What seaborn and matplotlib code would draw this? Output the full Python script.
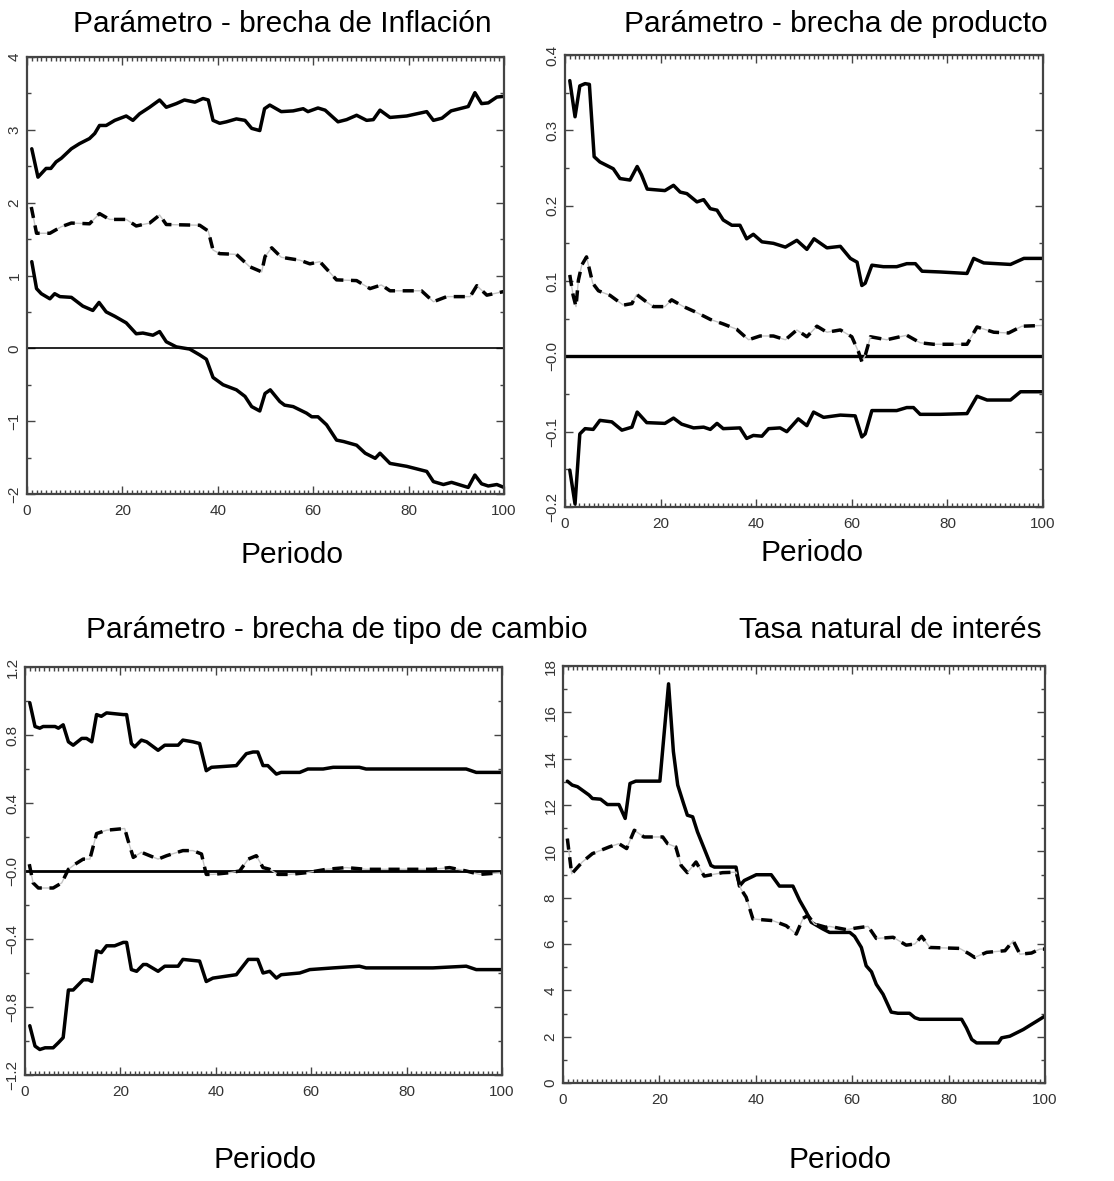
import numpy as np
import pandas as pd
import matplotlib
matplotlib.use("Agg")
import matplotlib.pyplot as plt
import seaborn as sns
from matplotlib.ticker import MultipleLocator
from matplotlib import font_manager

# ---------------- data (x = periodo, y = value) ----------------
p1_upper = [(1,2.74),(2.3,2.35),(4,2.47),(5,2.47),(6.1,2.56),(7.2,2.61),(9.3,2.74),(11,2.81),(13.1,2.88),(14.2,2.95),
            (15.2,3.06),(16.6,3.06),(18.4,3.13),(20.8,3.19),(22.2,3.13),(23.6,3.22),(25.7,3.31),(27.8,3.41),(29.2,3.31),
            (31.3,3.36),(33,3.41),(35.2,3.38),(36.9,3.43),(38,3.41),(39,3.13),(40.4,3.09),(41.8,3.11),(43.9,3.15),
            (45.7,3.13),(47.1,3.02),(48.8,2.99),(49.8,3.29),(50.9,3.34),(53.3,3.25),(55.8,3.26),(57.9,3.29),(58.9,3.25),
            (61,3.30),(62.5,3.27),(65.2,3.11),(67,3.14),(69.1,3.20),(71.2,3.13),(72.6,3.14),(74,3.27),(76.1,3.17),
            (79.6,3.19),(83.8,3.25),(85.2,3.13),(87,3.16),(88.9,3.26),(92.5,3.32),(93.9,3.51),(95.3,3.36),(96.7,3.37),
            (98.5,3.45),(100,3.46)]
p1_mid = [(0.9,1.94),(2,1.58),(4.8,1.58),(7.2,1.67),(9.3,1.72),(13.1,1.71),(15.2,1.85),(17.3,1.77),(20.8,1.77),
          (22.9,1.68),(25.7,1.72),(27.8,1.83),(29.2,1.70),(36.2,1.69),(38,1.61),(39,1.35),(40.4,1.30),(43.9,1.29),
          (46.7,1.12),(49.2,1.05),(49.9,1.26),(51.3,1.38),(53.3,1.25),(57.2,1.21),(59.3,1.16),(61.4,1.19),(64.9,0.94),
          (69.1,0.93),(71.9,0.82),(74.3,0.87),(76.1,0.79),(82.7,0.79),(85.2,0.64),(88,0.71),(92.9,0.71),(94.3,0.86),
          (96.4,0.73),(100,0.78)]
p1_lower = [(1,1.19),(2,0.82),(3,0.75),(4.8,0.68),(5.8,0.75),(6.9,0.71),(9.3,0.70),(11.7,0.58),(13.8,0.52),(15.1,0.63),
            (16.6,0.50),(18.4,0.44),(20.8,0.35),(22.9,0.20),(24.3,0.21),(26.4,0.18),(27.8,0.23),(29.2,0.09),(31.3,0.02),
            (34.1,-0.01),(36.2,-0.09),(37.6,-0.15),(39,-0.40),(41.1,-0.50),(43.9,-0.57),(45.7,-0.66),(47.1,-0.80),
            (48.8,-0.86),(49.9,-0.62),(51,-0.57),(53,-0.73),(54,-0.78),(55.8,-0.80),(58.6,-0.89),(59.7,-0.94),(61,-0.94),
            (62.8,-1.05),(64.9,-1.26),(66.4,-1.28),(69.1,-1.33),(70.9,-1.44),(73,-1.51),(74,-1.44),(76.1,-1.58),
            (79.6,-1.62),(83.8,-1.69),(85.2,-1.83),(87.3,-1.87),(89,-1.84),(92.5,-1.91),(93.9,-1.74),(95.3,-1.86),
            (96.7,-1.89),(98.5,-1.87),(100,-1.91)]

p2_upper = [(1,0.366),(2.1,0.318),(3.1,0.359),(4.2,0.362),(5.1,0.361),(6.1,0.265),(7.3,0.258),(10.1,0.249),(11.5,0.236),
            (13.6,0.234),(15.1,0.252),(16,0.241),(17.2,0.222),(20.9,0.220),(22.7,0.227),(24.1,0.218),(25.5,0.216),
            (27.6,0.205),(29,0.208),(30.4,0.196),(31.8,0.194),(33.1,0.181),(34.9,0.174),(36.6,0.174),(38,0.156),
            (39.4,0.162),(41.2,0.152),(43.6,0.150),(46.1,0.145),(48.5,0.154),(50.6,0.142),(52.1,0.156),(54.8,0.144),
            (57.6,0.146),(59.7,0.130),(61.1,0.125),(62.1,0.094),(62.8,0.097),(64.2,0.121),(66.6,0.119),(69.4,0.119),
            (71.5,0.123),(73.3,0.123),(74.7,0.113),(78.5,0.112),(84.1,0.110),(85.5,0.130),(87.6,0.124),(93.2,0.122),
            (96,0.130),(100,0.130)]
p2_mid = [(1,0.108),(1.7,0.081),(2.3,0.066),(2.8,0.101),(3.5,0.121),(4.5,0.132),(5.8,0.097),(7,0.087),(9.4,0.081),
          (12.2,0.068),(14,0.070),(15,0.082),(17.1,0.072),(18.5,0.066),(20.9,0.066),(22.3,0.075),(24.8,0.066),
          (27.6,0.058),(30.4,0.049),(33.1,0.043),(35.9,0.036),(38.4,0.022),(40.8,0.027),(43.6,0.027),(46.1,0.022),
          (48.5,0.035),(50.6,0.026),(52.7,0.040),(54.8,0.032),(57.6,0.035),(60,0.026),(61.4,0.006),(62.1,-0.007),
          (62.8,0.001),(63.9,0.026),(67.3,0.022),(71.5,0.028),(74.3,0.018),(77.1,0.016),(84.1,0.016),(86.2,0.039),
          (89.7,0.032),(92.8,0.031),(95.6,0.040),(100,0.041)]
p2_lower = [(1,-0.151),(2.1,-0.196),(3.1,-0.103),(4.2,-0.096),(5.9,-0.097),(7.3,-0.085),(9.8,-0.087),(11.9,-0.098),
            (14,-0.094),(15.1,-0.074),(17.1,-0.088),(20.9,-0.089),(22.7,-0.082),(24.4,-0.090),(26.9,-0.095),(29,-0.094),
            (30.4,-0.097),(31.8,-0.089),(33.1,-0.096),(36.6,-0.095),(38,-0.109),(39.4,-0.105),(41.2,-0.106),(42.6,-0.096),
            (45,-0.095),(46.4,-0.100),(48.8,-0.083),(50.6,-0.092),(52,-0.074),(54.1,-0.081),(57.6,-0.078),(60.7,-0.079),
            (62.1,-0.107),(62.8,-0.103),(64.2,-0.072),(69.4,-0.072),(71.5,-0.068),(72.9,-0.068),(74.3,-0.077),
            (78.5,-0.077),(84.1,-0.076),(86.2,-0.053),(88.3,-0.058),(93.2,-0.058),(95.3,-0.047),(100,-0.047)]

p3_upper = [(1,0.99),(2.1,0.85),(3.1,0.84),(3.8,0.85),(6.3,0.85),(7,0.84),(8,0.86),(9.1,0.76),(10.1,0.74),(11.9,0.78),
            (12.9,0.78),(14,0.76),(15,0.92),(16,0.91),(17.1,0.93),(20.6,0.92),(21.3,0.92),(22.3,0.75),(23,0.73),
            (24.4,0.77),(25.5,0.76),(27.9,0.71),(29.3,0.74),(32.1,0.74),(33.1,0.77),(35.2,0.76),(36.6,0.75),(38,0.59),
            (39.1,0.61),(44.3,0.62),(46.4,0.69),(47.8,0.70),(48.8,0.70),(49.9,0.62),(50.9,0.62),(52.7,0.57),(53.7,0.58),
            (57.6,0.58),(59.3,0.60),(62.5,0.60),(64.6,0.61),(70.1,0.61),(71.5,0.60),(85.5,0.60),(92.5,0.60),(94.6,0.58),
            (100,0.58)]
p3_mid = [(0.9,0.04),(1.7,-0.07),(2.8,-0.10),(5.9,-0.10),(7.7,-0.07),(9.1,0.01),(10.5,0.04),(12.2,0.07),(13.6,0.07),
          (15,0.22),(17.1,0.24),(20.9,0.25),(21.6,0.18),(22.7,0.08),(24.4,0.11),(27.9,0.07),(29.7,0.09),(33.1,0.12),
          (35.2,0.12),(37,0.10),(38,-0.02),(39.4,-0.02),(42.9,-0.01),(45,0.00),(46.8,0.07),(48.5,0.09),(49.9,0.02),
          (51.3,0.01),(53,-0.02),(55.5,-0.02),(59,-0.01),(63.2,0.01),(67.3,0.02),(71.5,0.01),(78.5,0.01),(85.5,0.01),
          (89,0.02),(92.5,0.00),(95.3,-0.02),(100,-0.01)]
p3_lower = [(1,-0.91),(2.1,-1.03),(3.1,-1.05),(4.2,-1.04),(5.9,-1.04),(7,-1.01),(8,-0.98),(9.1,-0.70),(10.1,-0.70),
            (12.2,-0.64),(13.3,-0.64),(14,-0.65),(15,-0.47),(16,-0.48),(17.1,-0.44),(18.8,-0.44),(20.6,-0.42),
            (21.3,-0.42),(22.3,-0.58),(23.4,-0.59),(24.8,-0.55),(25.5,-0.55),(27.9,-0.59),(29.3,-0.56),(32.1,-0.56),
            (33.1,-0.52),(36.6,-0.53),(38,-0.65),(39.4,-0.63),(44.3,-0.61),(46.8,-0.52),(48.8,-0.52),(49.9,-0.60),
            (51.3,-0.59),(52.7,-0.63),(53.7,-0.61),(57.6,-0.60),(59.7,-0.58),(64.6,-0.57),(70.1,-0.56),(71.5,-0.57),
            (85.5,-0.57),(92.5,-0.56),(94.6,-0.58),(100,-0.58)]

p4_solid = [(0.9,13.03),(1.9,12.86),(3,12.79),(5.4,12.43),(6.1,12.28),(7.8,12.25),(9.2,12.02),(11.6,12.02),(12.9,11.42),
            (13.9,12.93),(15.1,13.03),(20.1,13.03),(21.9,17.23),(22.9,14.31),(23.8,12.86),(25,12.07),(25.8,11.56),
            (26.9,11.49),(27.9,10.84),(30.7,9.39),(31.4,9.32),(35.9,9.32),(36.6,8.50),(37.6,8.74),(40.1,8.99),
            (43.2,8.99),(44.9,8.50),(47.7,8.50),(49.1,7.88),(50.5,7.37),(51.5,6.94),(53.9,6.65),(55.3,6.50),(59.5,6.50),
            (60.5,6.33),(61.9,5.85),(62.9,5.06),(64,4.80),(65,4.26),(66.4,3.83),(68.1,3.06),(69.5,3.01),(71.9,3.01),
            (73,2.82),(74,2.75),(82.7,2.75),(83.7,2.38),(84.8,1.88),(85.8,1.73),(90.3,1.73),(91,1.95),(92.7,2.02),
            (95.5,2.31),(97.2,2.53),(98.3,2.67),(100,2.89)]
p4_mid = [(0.9,10.55),(1.8,9.03),(4,9.54),(6.1,9.90),(9.6,10.19),(11.6,10.33),(13.2,10.12),(14.8,10.91),(16.8,10.62),
          (20.7,10.62),(21.7,10.33),(23.4,10.19),(24.5,9.39),(25.8,9.08),(27.6,9.54),(29.3,8.93),(33.1,9.08),
          (35.9,9.10),(36.9,8.38),(38,8.02),(39.4,7.08),(43.5,7.01),(46.3,6.79),(48.4,6.43),(49.8,7.11),(50.8,7.23),
          (52.2,6.86),(54.6,6.72),(55.3,6.76),(58.8,6.62),(60.5,6.68),(63.3,6.76),(65,6.24),(68.5,6.29),(71.2,5.95),
          (73,6.00),(74.4,6.33),(76.1,5.85),(82.3,5.81),(84.4,5.56),(85.4,5.42),(87.9,5.64),(91.7,5.71),(93.4,6.14),
          (94.8,5.56),(97.2,5.61),(98.9,5.78),(100,5.78)]

titles = ["Parámetro - brecha de Inflación", "Parámetro - brecha de producto",
          "Parámetro - brecha de tipo de cambio", "Tasa natural de interés"]
xlabel = "Periodo"
x_ticks = [0, 20, 40, 60, 80, 100]
p1_yticks = [4, 3, 2, 1, 0, -1, -2]
p1_ylabels = ["4", "3", "2", "1", "0", "\u22121", "\u22122"]
p2_yticks = [0.4, 0.3, 0.2, 0.1, 0.0, -0.1, -0.2]
p2_ylabels = ["0.4", "0.3", "0.2", "0.1", "\u22120.0", "\u22120.1", "\u22120.2"]
p3_yticks = [1.2, 0.8, 0.4, 0.0, -0.4, -0.8, -1.2]
p3_ylabels = ["1.2", "0.8", "0.4", "\u22120.0", "\u22120.4", "\u22120.8", "\u22121.2"]
p4_yticks = [0, 2, 4, 6, 8, 10, 12, 14, 16, 18]
p4_ylabels = [str(v) for v in p4_yticks]

# ---------------- style ----------------
sns.set_style("white")
names = {f.name for f in font_manager.fontManager.ttflist}
tick_font = "Liberation Sans Narrow" if "Liberation Sans Narrow" in names else "Liberation Sans"
plt.rcParams['font.family'] = ['Liberation Sans', 'DejaVu Sans']
plt.rcParams['text.color'] = 'black'

W, H = 1114, 1181
fig = plt.figure(figsize=(W / 100, H / 100), dpi=100)


def box(l, r, t, b):
    return [l / W, 1 - b / H, (r - l) / W, (b - t) / H]


def to_df(pairs):
    return pd.DataFrame(pairs, columns=["x", "y"])


def solid(ax, pairs):
    sns.lineplot(data=to_df(pairs), x="x", y="y", ax=ax, color="black", linewidth=2.5,
                 sort=False, estimator=None, solid_joinstyle="round", solid_capstyle="round")


def dashdot(ax, pairs):
    df = to_df(pairs)
    sns.lineplot(data=df, x="x", y="y", ax=ax, color="#c4c4c4", linewidth=1.0,
                 sort=False, estimator=None)
    sns.lineplot(data=df, x="x", y="y", ax=ax, color="black", linewidth=2.5,
                 sort=False, estimator=None, linestyle=(0, (3.2, 2.2)))


def setup(ax, ylim, yticks, ylabels, minor, zero_lw=None):
    ax.set_xlim(0, 100)
    ax.set_ylim(*ylim)
    if zero_lw:
        ax.axhline(0, color="black", linewidth=zero_lw, zorder=1)
    ax.set_xticks(x_ticks)
    ax.set_xticklabels([str(v) for v in x_ticks], fontfamily=tick_font, fontsize=11, color="#333333")
    ax.xaxis.set_minor_locator(MultipleLocator(1))
    ax.set_yticks(yticks)
    ax.set_yticklabels(ylabels, rotation=90, va="center", fontfamily=tick_font,
                       fontsize=11, color="#333333")
    ax.yaxis.set_minor_locator(MultipleLocator(minor))
    ax.tick_params(which="both", direction="in", top=True, right=True, left=True, bottom=True,
                   color="#444444", width=1.0)
    ax.tick_params(which="major", length=6)
    ax.tick_params(which="minor", length=3)
    ax.tick_params(axis="x", pad=7)
    ax.tick_params(axis="y", pad=4)
    ax.set_xlabel("")
    ax.set_ylabel("")
    for s in ax.spines.values():
        s.set_color("#444444")
        s.set_linewidth(1.6)
        s.set_visible(True)


# Panel 1
ax1 = fig.add_axes(box(27, 504, 57, 494))
solid(ax1, p1_upper)
dashdot(ax1, p1_mid)
solid(ax1, p1_lower)
setup(ax1, (-2, 4), p1_yticks, p1_ylabels, 0.5, zero_lw=1.2)

# Panel 2
ax2 = fig.add_axes(box(565, 1043, 55, 507))
solid(ax2, p2_upper)
dashdot(ax2, p2_mid)
solid(ax2, p2_lower)
setup(ax2, (-0.2, 0.4), p2_yticks, p2_ylabels, 0.05, zero_lw=2.4)

# Panel 3
ax3 = fig.add_axes(box(25, 502, 667, 1075))
solid(ax3, p3_upper)
dashdot(ax3, p3_mid)
solid(ax3, p3_lower)
setup(ax3, (-1.2, 1.2), p3_yticks, p3_ylabels, 0.2, zero_lw=2.0)

# Panel 4
ax4 = fig.add_axes(box(563, 1045, 666, 1083))
solid(ax4, p4_solid)
dashdot(ax4, p4_mid)
setup(ax4, (0, 18), p4_yticks, p4_ylabels, 1)

# Titles and x labels (placed as in the reference)
tfs = 21.5
fig.text(282 / W, 1 - 24 / H, titles[0], ha="center", va="center", fontsize=tfs, color="black")
fig.text(836 / W, 1 - 24 / H, titles[1], ha="center", va="center", fontsize=tfs, color="black")
fig.text(337 / W, 1 - 630 / H, titles[2], ha="center", va="center", fontsize=tfs, color="black")
fig.text(890 / W, 1 - 630 / H, titles[3], ha="center", va="center", fontsize=tfs, color="black")
fig.text(292 / W, 1 - 555 / H, xlabel, ha="center", va="center", fontsize=tfs, color="black")
fig.text(812 / W, 1 - 553 / H, xlabel, ha="center", va="center", fontsize=tfs, color="black")
fig.text(265 / W, 1 - 1160 / H, xlabel, ha="center", va="center", fontsize=tfs, color="black")
fig.text(840 / W, 1 - 1160 / H, xlabel, ha="center", va="center", fontsize=tfs, color="black")

fig.savefig("out.png", dpi=100, facecolor="white")
